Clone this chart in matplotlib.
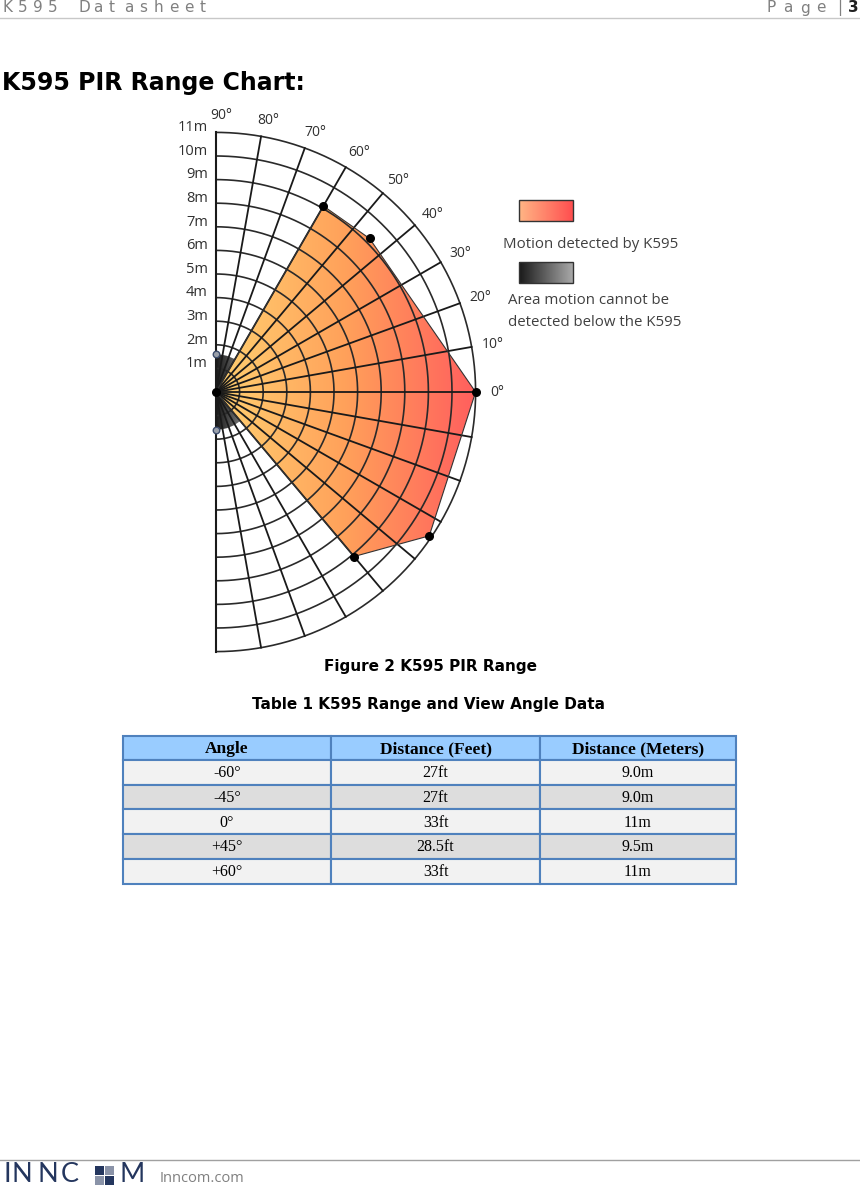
import numpy as np
import matplotlib
matplotlib.use("Agg")
import matplotlib.pyplot as plt
from matplotlib.patches import Polygon, Rectangle, Wedge
from matplotlib.colors import LinearSegmentedColormap

# chart data
zone_angles = [60, 45, 0, -34, -50]          # deg
zone_ranges = [9.1, 9.2, 11.0, 10.9, 9.1]    # m
rings = list(range(1, 12))                   # m
spoke_angles = list(range(-80, 90, 10))
angle_labels = list(range(0, 100, 10))
dead_radius = 1.6

# table data
tbl_header = ["Angle", "Distance (Feet)", "Distance (Meters)"]
tbl_angle = ["-60°", "-45°", "0°", "+45°", "+60°"]
tbl_feet = ["27ft", "27ft", "33ft", "28.5ft", "33ft"]
tbl_m = ["9.0m", "9.0m", "11m", "9.5m", "11m"]

W, H = 860, 1186
fig = plt.figure(figsize=(W / 100, H / 100), dpi=100)
page = fig.add_axes([0, 0, 1, 1])
page.set_xlim(0, W)
page.set_ylim(H, 0)
page.axis("off")

sans = ["Open Sans", "DejaVu Sans"]
serif = ["Liberation Serif", "DejaVu Serif"]

# header
for i, ch in enumerate("K595 Datasheet"):
    page.text(3 + i * 15.1, 8, ch, fontsize=11, color="#808080", va="center", ha="left")
for i, ch in enumerate("Page"):
    page.text(767 + i * 16.5, 8, ch, fontsize=11, color="#808080", va="center", ha="left")
page.text(837, 8, "|", fontsize=11, color="#808080", va="center", ha="left")
page.text(848, 8, "3", fontsize=11, color="#202020", va="center", ha="left", fontweight="bold")
page.plot([0, W], [18, 18], color="#c8c8c8", lw=1)

page.text(2, 83, "K595 PIR Range Chart:", fontsize=17, fontweight="bold", va="center", ha="left")

# polar chart on its own axes: origin at (216, 392) px, 23.6 px per metre
ox, oy, s = 216, 392, 23.6
x0, x1, y0, y1 = -2.0, 13.0, -12.0, 12.0
left = ox + x0 * s
top = oy - y1 * s
ax = fig.add_axes([left / W, 1 - (top + (y1 - y0) * s) / H, (x1 - x0) * s / W, (y1 - y0) * s / H])
ax.set_xlim(x0, x1)
ax.set_ylim(y0, y1)
ax.axis("off")
ax.patch.set_alpha(0)

# dead zone below the sensor
grey_cmap = LinearSegmentedColormap.from_list("g", ["#1a1a1a", "#a8a8a8"])
wed = Wedge((0, 0), dead_radius, -90, 90, facecolor="none", edgecolor="none")
ax.add_patch(wed)
im = ax.imshow(np.linspace(0, 1, 64)[None, :], cmap=grey_cmap, extent=[0, dead_radius, -dead_radius, dead_radius],
               aspect="auto", zorder=1)
im.set_clip_path(wed)

# detection zone
th = np.radians(zone_angles)
px = np.concatenate([[0], np.array(zone_ranges) * np.cos(th)])
py = np.concatenate([[0], np.array(zone_ranges) * np.sin(th)])
poly = Polygon(np.column_stack([px, py]), closed=True, facecolor="none", edgecolor="#333333", lw=0.8, zorder=3)
ax.add_patch(poly)
warm = LinearSegmentedColormap.from_list("w", ["#ffd070", "#ffa05a", "#ff5e5e"])
im2 = ax.imshow(np.linspace(0, 1, 128)[None, :], cmap=warm, extent=[0, 11.1, -11.1, 11.1],
                aspect="auto", zorder=1.5)
im2.set_clip_path(poly)

# grid
t = np.radians(np.linspace(-90, 90, 300))
for r in rings:
    ax.plot(r * np.cos(t), r * np.sin(t), color="#2a2a2a", lw=1.2, zorder=2)
for a in spoke_angles:
    ar = np.radians(a)
    ax.plot([0, 11 * np.cos(ar)], [0, 11 * np.sin(ar)], color="#1a1a1a", lw=1.3, zorder=2)
ax.plot([0, 0], [-11, 11], color="#1a1a1a", lw=1.5, zorder=2)

# markers
ax.scatter(px, py, s=30, color="black", zorder=4)
ax.scatter([0, 0], [dead_radius, -dead_radius], s=22, facecolor="#9aa0aa", edgecolor="#3c4c6c", lw=1, zorder=4)

for a in angle_labels:
    ar = np.radians(a)
    ax.text(11.7 * np.cos(ar) + 0.2, 11.7 * np.sin(ar), f"{a}°", fontsize=10, family=sans,
            color="#303030", ha="center", va="center")
for r in rings:
    ax.text(-0.34, r + 0.2, f"{r}m", fontsize=10.5, family=sans, color="#303030", ha="right", va="center")

# legend
red_cmap = LinearSegmentedColormap.from_list("r", ["#ffb585", "#ff4f4f"])
page.imshow(np.linspace(0, 1, 64)[None, :], cmap=red_cmap, extent=[519, 573, 221, 200], aspect="auto")
page.add_patch(Rectangle((519, 200), 54, 21, facecolor="none", edgecolor="#333333", lw=1))
page.text(503, 244, "Motion detected by K595", fontsize=10.8, family=sans, color="#404040", va="center")
page.imshow(np.linspace(0, 1, 64)[None, :], cmap=grey_cmap, extent=[519, 573, 283, 262], aspect="auto")
page.add_patch(Rectangle((519, 262), 54, 21, facecolor="none", edgecolor="#333333", lw=1))
page.text(508, 301, "Area motion cannot be", fontsize=10.8, family=sans, color="#404040", va="center")
page.text(508, 322, "detected below the K595", fontsize=10.8, family=sans, color="#404040", va="center")
page.set_xlim(0, W)
page.set_ylim(H, 0)

# captions
page.text(430, 666, "Figure 2 K595 PIR Range", fontsize=11, fontweight="bold", ha="center", va="center")
page.text(429, 705, "Table 1 K595 Range and View Angle Data", fontsize=11, fontweight="bold",
          ha="center", va="center")

# table
col_x = [123, 331, 540, 736]
row_y0, head_h, row_h = 736, 24, 24.7
border = "#4f81bd"
for j in range(3):
    page.add_patch(Rectangle((col_x[j], row_y0), col_x[j + 1] - col_x[j], head_h,
                             facecolor="#99ccff", edgecolor=border, lw=1.5))
    page.text((col_x[j] + col_x[j + 1]) / 2, row_y0 + head_h / 2 + 1, tbl_header[j], family=serif,
              fontsize=12.5, fontweight="bold", ha="center", va="center")
cols = [tbl_angle, tbl_feet, tbl_m]
for i in range(len(tbl_angle)):
    y = row_y0 + head_h + i * row_h
    fc = "#f2f2f2" if i % 2 == 0 else "#dddddd"
    for j in range(3):
        page.add_patch(Rectangle((col_x[j], y), col_x[j + 1] - col_x[j], row_h,
                                 facecolor=fc, edgecolor=border, lw=1.5))
        page.text((col_x[j] + col_x[j + 1]) / 2, y + row_h / 2 + 1, cols[j][i], family=serif,
                  fontsize=11.5, ha="center", va="center")

# footer
page.plot([0, W], [1160, 1160], color="#a0a0a0", lw=1)
navy = "#24365e"
logo_font = ["Lato", "DejaVu Sans"]
for xch, ch in zip([3, 12, 37, 61], "INNC"):
    page.text(xch, 1174.5, ch, fontsize=19.5, color=navy, family=logo_font, ha="left", va="center")
sq = 8.5
for (dx, dy, c) in [(0, 0, navy), (10, 0, "#8a93a8"), (0, 10, "#8a93a8"), (10, 10, navy)]:
    page.add_patch(Rectangle((95 + dx, 1166 + dy), sq, sq, facecolor=c, edgecolor="none"))
page.text(119, 1174.5, "M", fontsize=19.5, color=navy, family=logo_font, ha="left", va="center")
page.text(160, 1179, "Inncom.com", fontsize=10.5, color="#808080", family=sans, ha="left", va="center")

fig.savefig("out.png", dpi=100)
